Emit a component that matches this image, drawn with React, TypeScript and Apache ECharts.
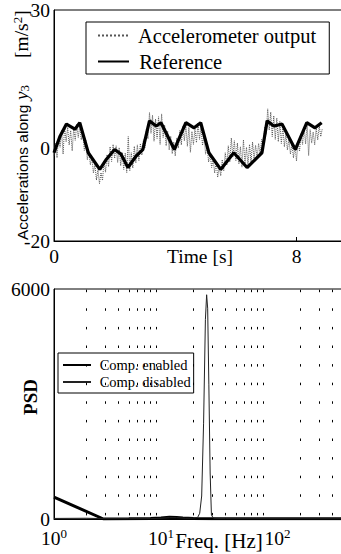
import React, { useEffect, useRef } from "react";
import * as echarts from "echarts";

// ---------- Top panel: accelerations along y3 ----------
const ACC_DT = 0.05; // sampling step of the accelerometer trace [s]
const accelerometerOutput = [
  -1.5, 1.2, -2.0, 2.5, 0.3, 4.0, -1.2, 4.8, 1.5, 4.6,
  0.8, 3.9, -0.5, 4.4, 1.8, 5.3, 2.4, 4.9, 1.9, 3.6,
  -0.4, 1.8, -2.4, -0.6, -3.5, -1.9, -5.3, -3.4, -6.8, -4.6,
  -7.6, -5.2, -6.9, -2.7, -5.1, -1.3, -3.9, 0.4, -2.8, 0.9,
  -2.1, 0.6, -3.0, 0.2, -3.7, -0.8, -4.5, -1.0, -5.2, 2.6,
  -4.8, -0.9, -4.2, 0.5, -3.1, 0.8, -2.6, 1.1, -1.4, 1.9,
  0.2, 4.3, 2.1, 7.8, 3.3, 7.2, 1.6, 6.4, 2.2, 6.9,
  0.9, 7.5, 2.4, 5.1, 0.6, 3.8, -0.3, 2.7, -1.1, 1.4,
  -1.6, 2.3, 0.1, 3.9, 0.8, 4.9, 1.7, 5.2, 0.5, 4.6,
  -0.8, 3.7, 0.9, 4.2, 1.3, 5.6, 2.0, 4.7, 0.7, 2.9,
  -1.2, 0.8, -2.9, -1.0, -4.1, -2.2, -5.3, -2.8, -6.2, -3.9,
  -5.9, -2.4, -4.8, -0.9, -3.6, 0.6, -2.9, 2.3, -1.8, 1.7,
  -2.6, 1.2, -3.3, 0.4, -4.0, 1.9, -3.2, 0.3, -3.7, 0.9,
  -2.9, 1.4, -2.2, 0.7, -1.9, 1.1, -1.4, 2.0, 0.9, 4.7,
  3.1, 8.6, 4.0, 7.9, 2.6, 7.1, 2.0, 6.6, 1.5, 5.9,
  1.1, 4.8, 0.4, 3.2, -0.3, 2.1, -1.2, 1.0, -2.0, 0.6,
  -2.7, 1.6, -0.6, 3.3, 0.9, 4.6, 1.0, 5.4, -1.5, 4.1,
  1.2, 3.6, 0.8, 4.4, 1.9, 4.9, 2.6, 4.3,
];
const referenceTime = [
  0, 0.2, 0.41, 0.69, 0.85, 1.13, 1.51, 1.73, 2.0, 2.21, 2.44, 2.71, 2.93,
  3.15, 3.37, 3.53, 3.97, 4.35, 4.62, 4.84, 5.11, 5.5, 5.93, 6.37, 6.86,
  7.03, 7.25, 7.52, 7.96, 8.34, 8.61, 8.83,
];
const referenceAccel = [
  -0.9, 2.7, 5.3, 4.2, 5.6, -0.9, -4.5, -2.3, -0.2, -1.2, -4.1, -1.6, -0.2,
  6.0, 4.9, 5.6, -0.2, 5.6, 4.5, 5.6, -0.9, -4.5, -0.9, -4.1, -0.9,
  6.0, 4.9, 5.3, -0.2, 5.6, 4.5, 5.6,
];
const timeTickLabels = [0, 8];
const accelTickLabels = [-20, 0, 30];

// ---------- Bottom panel: PSD ----------
const enabledFreq = [1, 2.9, 5, 8, 10, 12, 14, 16, 20, 30, 60, 100, 300, 1000];
const enabledPsd = [570, 0, 5, 10, 25, 45, 40, 25, 10, 5, 5, 5, 5, 5];
const disabledFreq = [
  1, 2, 3, 5, 8, 10, 12, 14, 17, 20, 22, 23, 24, 25, 26, 26.7, 27.3, 28,
  28.8, 29.6, 31, 40, 100, 1000,
];
const disabledPsd = [
  15, 20, 10, 8, 10, 20, 35, 35, 20, 25, 40, 150, 600, 2500, 5200, 5850,
  5500, 3500, 1200, 100, 20, 10, 8, 5,
];
const minorGridFreq = [
  2, 3, 4, 5, 6, 7, 8, 9, 20, 30, 40, 50, 60, 70, 80, 90, 200, 300, 400,
  500, 600, 700, 800, 900,
];
const freqLabelExponents = [0, 1, 2];

const SERIF = "'Liberation Serif', 'Times New Roman', serif";
const SANS = "'Liberation Sans', Arial, sans-serif";

function buildOption() {
  const axisLine = { show: true, onZero: false, lineStyle: { color: "#000", width: 1 } };
  const labelBase = { color: "#000", fontFamily: SERIF, fontSize: 19.5 };
  return {
    animation: false,
    backgroundColor: "#fff",
    textStyle: { fontFamily: SERIF, color: "#000" },
    grid: [
      { left: 54, top: 9, width: 291, height: 232, show: true, borderColor: "#000", borderWidth: 1, backgroundColor: "transparent" },
      { left: 54, top: 289, width: 321, height: 230, show: true, borderColor: "#000", borderWidth: 1, backgroundColor: "transparent" },
    ],
    xAxis: [
      {
        gridIndex: 0, type: "value", min: 0, max: 9.6, interval: 8,
        axisLine, splitLine: { show: false },
        axisTick: { show: true, inside: true, length: 4, lineStyle: { color: "#000" } },
        axisLabel: {
          ...labelBase, margin: 5, showMaxLabel: false,
          formatter: (v: number) => (timeTickLabels.includes(v) ? String(v) : ""),
        },
      },
      {
        gridIndex: 1, type: "log", logBase: 10, min: 1, max: 1000,
        axisLine, splitLine: { show: false }, axisTick: { show: false },
        axisLabel: {
          margin: 8, showMaxLabel: false,
          formatter: (v: number) => {
            const e = Math.round(Math.log10(v));
            if (!freqLabelExponents.includes(e)) return "";
            return e === 2 ? `{bs|10}{s|${e}}` : `{b|10}{s|${e}}`;
          },
          rich: {
            b: { ...labelBase, lineHeight: 22 },
            bs: { ...labelBase, lineHeight: 22, padding: [0, 0, 0, 19] },
            s: { color: "#000", fontFamily: SERIF, fontSize: 13, lineHeight: 13, verticalAlign: "top" },
          },
        },
      },
    ],
    yAxis: [
      {
        gridIndex: 0, type: "value", min: -20, max: 30, interval: 10,
        axisLine, splitLine: { show: false }, axisTick: { show: false },
        axisLabel: {
          ...labelBase, margin: 4,
          formatter: (v: number) => (accelTickLabels.includes(v) ? String(v) : ""),
        },
      },
      {
        gridIndex: 1, type: "value", min: 0, max: 6000, interval: 6000,
        axisLine, splitLine: { show: false }, axisTick: { show: false },
        axisLabel: { ...labelBase, margin: 4, formatter: (v: number) => String(v) },
      },
    ],
    legend: [
      {
        left: 86, top: 22, orient: "vertical", selectedMode: false,
        data: ["Accelerometer output", "Reference"],
        borderColor: "#000", borderWidth: 1, borderRadius: 0,
        padding: [3, 12, 2, 11], itemWidth: 31, itemHeight: 14, itemGap: 5,
        itemStyle: { opacity: 0 },
        formatter: (n: string) => " " + n,
        textStyle: { fontFamily: SERIF, fontSize: 20.5, color: "#000", lineHeight: 20 },
      },
      {
        left: 58, top: 353, orient: "vertical", selectedMode: false,
        data: ["Comp. enabled", "Comp. disabled"],
        borderColor: "#000", borderWidth: 1, borderRadius: 0,
        padding: [4, 3, 3, 4], itemWidth: 28, itemHeight: 12, itemGap: 1,
        itemStyle: { opacity: 0 },
        formatter: (n: string) => " " + n,
        textStyle: { fontFamily: SERIF, fontSize: 14.5, color: "#000", lineHeight: 16 },
      },
    ],
    graphic: [
      {
        type: "text", x: 22, y: 240, rotation: Math.PI / 2,
        style: { text: "Accelerations along", fontFamily: SANS, fontSize: 15.5, fill: "#000", align: "left", verticalAlign: "middle" },
      },
      {
        type: "text", x: 21, y: 100, rotation: Math.PI / 2,
        style: {
          text: "{i|y}{sub|3}",
          align: "left", verticalAlign: "middle",
          rich: {
            i: { fontFamily: SERIF, fontStyle: "italic", fontSize: 19, fill: "#000", lineHeight: 20 },
            sub: { fontFamily: SERIF, fontSize: 13, fill: "#000", lineHeight: 13, verticalAlign: "bottom" },
          },
        },
      },
      {
        type: "text", x: 21, y: 58, rotation: Math.PI / 2,
        style: {
          text: "{n|[m/s}{sup|2}{n|]}",
          align: "left", verticalAlign: "middle",
          rich: {
            n: { fontFamily: SERIF, fontSize: 19.5, fill: "#000", lineHeight: 20 },
            sup: { fontFamily: SERIF, fontSize: 13, fill: "#000", lineHeight: 13, verticalAlign: "top" },
          },
        },
      },
      {
        type: "text", x: 200, y: 256,
        style: { text: "Time [s]", fontFamily: SERIF, fontSize: 19.5, fill: "#000", align: "center", verticalAlign: "middle" },
      },
      {
        type: "text", x: 30, y: 397, rotation: Math.PI / 2,
        style: { text: "PSD", fontFamily: SERIF, fontWeight: "bold", fontSize: 19, fill: "#000", align: "center", verticalAlign: "middle" },
      },
      {
        type: "text", x: 219, y: 541,
        style: { text: "Freq. [Hz]", fontFamily: SERIF, fontSize: 21, fill: "#000", align: "center", verticalAlign: "middle" },
      },
    ],
    series: [
      {
        name: "Accelerometer output", type: "line", xAxisIndex: 0, yAxisIndex: 0,
        data: accelerometerOutput.map((v, i) => [i * ACC_DT, v]),
        symbol: "none", showSymbol: false, silent: true,
        lineStyle: { color: "#555", width: 1, type: "dotted" },
        itemStyle: { color: "#555" },
        z: 2,
      },
      {
        name: "Reference", type: "line", xAxisIndex: 0, yAxisIndex: 0,
        data: referenceTime.map((t, i) => [t, referenceAccel[i]]),
        symbol: "none", showSymbol: false, silent: true,
        lineStyle: { color: "#000", width: 3.2 },
        itemStyle: { color: "#000" },
        z: 3,
      },
      {
        name: "Comp. enabled", type: "line", xAxisIndex: 1, yAxisIndex: 1,
        data: enabledFreq.map((f, i) => [f, enabledPsd[i]]),
        symbol: "none", showSymbol: false, silent: true,
        lineStyle: { color: "#000", width: 3 },
        itemStyle: { color: "#000" },
        z: 3,
      },
      {
        name: "Comp. disabled", type: "line", xAxisIndex: 1, yAxisIndex: 1,
        data: disabledFreq.map((f, i) => [f, disabledPsd[i]]),
        symbol: "none", showSymbol: false, silent: true,
        lineStyle: { color: "#222", width: 1 },
        itemStyle: { color: "#222" },
        z: 3,
        markLine: {
          silent: true, symbol: ["none", "none"], label: { show: false },
          emphasis: { disabled: true },
          lineStyle: { color: "#000", width: 1, type: [2.5, 16.1], dashOffset: 14.5 },
          data: minorGridFreq.map((f) => ({ xAxis: f })),
        },
      },
    ],
  };
}

export default function App() {
  const ref = useRef<HTMLDivElement>(null);
  useEffect(() => {
    if (!ref.current) return;
    const chart = echarts.init(ref.current, null, { renderer: "svg" });
    chart.setOption(buildOption() as any);
    return () => chart.dispose();
  }, []);
  return (
    <div style={{ position: "fixed", left: 0, top: 0, width: 341, height: 554, overflow: "hidden", background: "#fff" }}>
      <div ref={ref} style={{ width: 380, height: 554 }} />
    </div>
  );
}
